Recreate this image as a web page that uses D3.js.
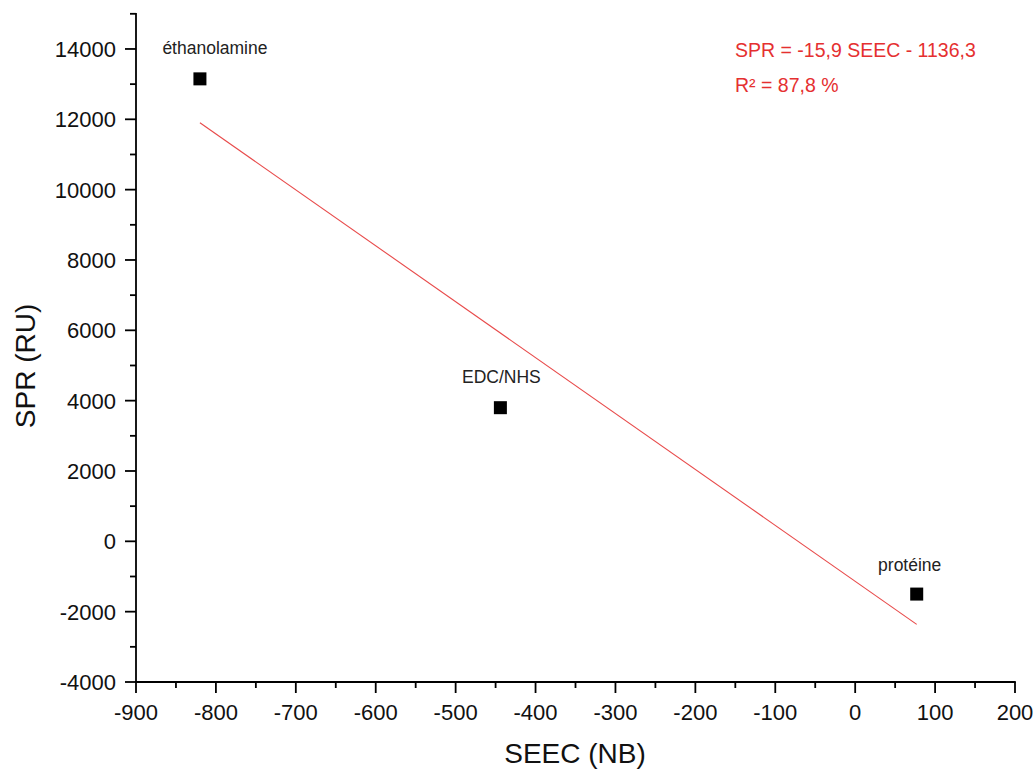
<!DOCTYPE html>
<html><head><meta charset="utf-8">
<script src="https://cdn.jsdelivr.net/npm/d3@7"></script>
<style>body{margin:0;background:#fff}svg{display:block;font-family:"Liberation Sans",Arial,sans-serif}</style>
</head><body><svg id="c" width="1035" height="769"></svg>
<script>
const labels = ["éthanolamine", "EDC/NHS", "protéine"];
const seec = [-820, -444, 77];
const spr = [13150, 3800, -1500];
const slope = -15.9, intercept = -1136.3;
const xTicks = [-900,-800,-700,-600,-500,-400,-300,-200,-100,0,100,200];
const yTicks = [-4000,-2000,0,2000,4000,6000,8000,10000,12000,14000];

const svg = d3.select("#c");
const x = d3.scaleLinear().domain([-900, 200]).range([136, 1015]);
const y = d3.scaleLinear().domain([-4000, 15000]).range([682, 13.8]);

const xMinor = d3.range(-850, 200, 100);
const yMinor = d3.range(-3000, 15001, 2000);

const xa = svg.append("g").attr("transform","translate(0,682)");
xa.append("line").attr("x1",135).attr("x2",1015.8).attr("stroke","#000").attr("stroke-width",1.8);
xa.selectAll(".mj").data(xTicks).join("line").attr("class","mj").attr("x1",d=>x(d)).attr("x2",d=>x(d)).attr("y1",0).attr("y2",11).attr("stroke","#000").attr("stroke-width",1.8);
xa.selectAll(".mn").data(xMinor).join("line").attr("class","mn").attr("x1",d=>x(d)).attr("x2",d=>x(d)).attr("y1",0).attr("y2",6).attr("stroke","#000").attr("stroke-width",1.8);
xa.selectAll("text").data(xTicks).join("text").attr("x",d=>x(d)).attr("y",38).attr("text-anchor","middle").attr("font-size",22).attr("fill","#111").text(d=>d);

const ya = svg.append("g").attr("transform","translate(136,0)");
ya.append("line").attr("y1",13).attr("y2",682.8).attr("stroke","#000").attr("stroke-width",1.8);
ya.selectAll(".mj").data(yTicks).join("line").attr("class","mj").attr("y1",d=>y(d)).attr("y2",d=>y(d)).attr("x1",0).attr("x2",-11).attr("stroke","#000").attr("stroke-width",1.8);
ya.selectAll(".mn").data(yMinor).join("line").attr("class","mn").attr("y1",d=>y(d)).attr("y2",d=>y(d)).attr("x1",0).attr("x2",-6).attr("stroke","#000").attr("stroke-width",1.8);
ya.selectAll("text").data(yTicks).join("text").attr("x",-20).attr("y",d=>y(d)+8).attr("text-anchor","end").attr("font-size",22).attr("fill","#111").text(d=>d);

svg.append("text").attr("x",575).attr("y",763).attr("text-anchor","middle").attr("font-size",28).attr("fill","#111").text("SEEC (NB)");
svg.append("text").attr("transform","translate(35,366) rotate(-90)").attr("text-anchor","middle").attr("font-size",28).attr("fill","#111").text("SPR (RU)");

const xr = d3.extent(seec);
svg.append("line").attr("x1",x(xr[0])).attr("y1",y(slope*xr[0]+intercept)).attr("x2",x(xr[1])).attr("y2",y(slope*xr[1]+intercept)).attr("stroke","#e84a4a").attr("stroke-width",1.1);

const pts = seec.map((v,i)=>({x:v,y:spr[i],l:labels[i]}));
svg.selectAll(".pt").data(pts).join("rect").attr("class","pt").attr("x",d=>x(d.x)-6.5).attr("y",d=>y(d.y)-6.5).attr("width",13).attr("height",13).attr("fill","#000");
const lblOff = [[15,-25],[1,-25],[-7,-23]];
svg.selectAll(".lb").data(pts).join("text").attr("class","lb").attr("x",(d,i)=>x(d.x)+lblOff[i][0]).attr("y",(d,i)=>y(d.y)+lblOff[i][1]).attr("text-anchor","middle").attr("font-size",17.5).attr("fill","#222").text(d=>d.l);

svg.append("text").attr("x",735).attr("y",57).attr("font-size",19.5).attr("fill","#e53030").text("SPR = -15,9 SEEC - 1136,3");
svg.append("text").attr("x",735).attr("y",92).attr("font-size",19.5).attr("fill","#e53030").text("R² = 87,8 %");
</script></body></html>
